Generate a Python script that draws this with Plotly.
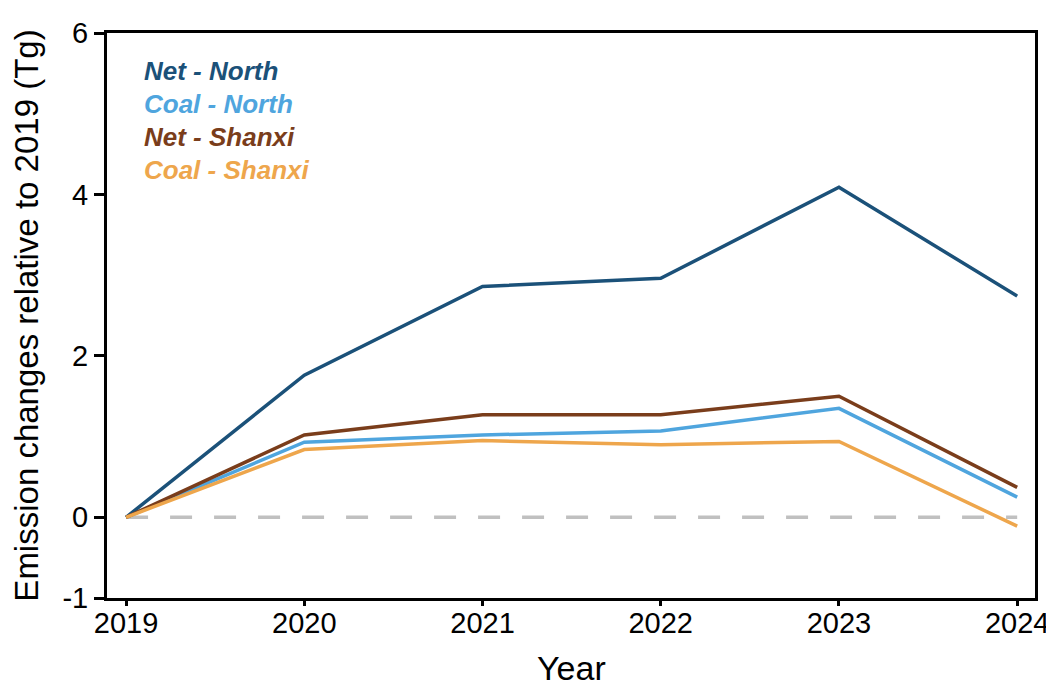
import plotly.graph_objects as go

years = [2019, 2020, 2021, 2022, 2023, 2024]
net_north = [0, 1.76, 2.86, 2.96, 4.09, 2.74]
coal_north = [0, 0.93, 1.02, 1.07, 1.35, 0.25]
net_shanxi = [0, 1.02, 1.27, 1.27, 1.50, 0.37]
coal_shanxi = [0, 0.84, 0.95, 0.90, 0.94, -0.11]

series = [
    ("Net - North", net_north, "#1b5179"),
    ("Coal - North", coal_north, "#4fa5de"),
    ("Net - Shanxi", net_shanxi, "#7a3d1b"),
    ("Coal - Shanxi", coal_shanxi, "#eea64c"),
]

fig = go.Figure()
fig.add_trace(go.Scatter(x=[years[0], years[-1]], y=[0, 0], mode="lines",
                         line=dict(color="#c0c0c0", width=3.5, dash="22px,22px"),
                         showlegend=False, hoverinfo="skip"))
for name, vals, col in series:
    fig.add_trace(go.Scatter(x=years, y=vals, mode="lines", name=name,
                             line=dict(color=col, width=3.5), showlegend=False))

for i, (name, vals, col) in enumerate(series):
    fig.add_annotation(x=0.038, y=0.933 - i * 0.0584, xref="paper", yref="paper",
                       text=f"<b><i>{name}</i></b>", showarrow=False,
                       xanchor="left", yanchor="middle",
                       font=dict(family="Arial, Liberation Sans", size=26, color=col))

fig.add_annotation(x=0.5, y=-0.124, xref="paper", yref="paper", text="Year",
                   showarrow=False, xanchor="center", yanchor="middle",
                   font=dict(family="Arial, Liberation Sans", size=34, color="black"))

fig.update_layout(
    width=1046, height=682,
    margin=dict(l=99, r=19, t=25, b=92),
    paper_bgcolor="white", plot_bgcolor="white",
    font=dict(family="Arial, Liberation Sans", color="black"),
    xaxis=dict(range=[2018.893, 2024.10], tickvals=years, ticktext=[str(y) for y in years],
               showline=True, linecolor="black", linewidth=3, mirror=True,
               ticks="outside", ticklen=5, tickwidth=2.5, tickcolor="black",
               showgrid=False, zeroline=False, tickfont=dict(size=29), automargin=False,
               ticklabeloverflow="allow", ticklabelstandoff=-8),
    yaxis=dict(range=[-1, 6], tickvals=[-1, 0, 2, 4, 6], ticktext=["-1", "0", "2", "4", "6"],
               showline=True, linecolor="black", linewidth=3, mirror=True,
               ticks="outside", ticklen=10, tickwidth=2.5, tickcolor="black",
               showgrid=False, zeroline=False, tickfont=dict(size=29), automargin=False,
               ticklabeloverflow="allow",
               title=dict(text="Emission changes relative to 2019 (Tg)", font=dict(size=33), standoff=17)),
)

fig.write_html("out.html")
